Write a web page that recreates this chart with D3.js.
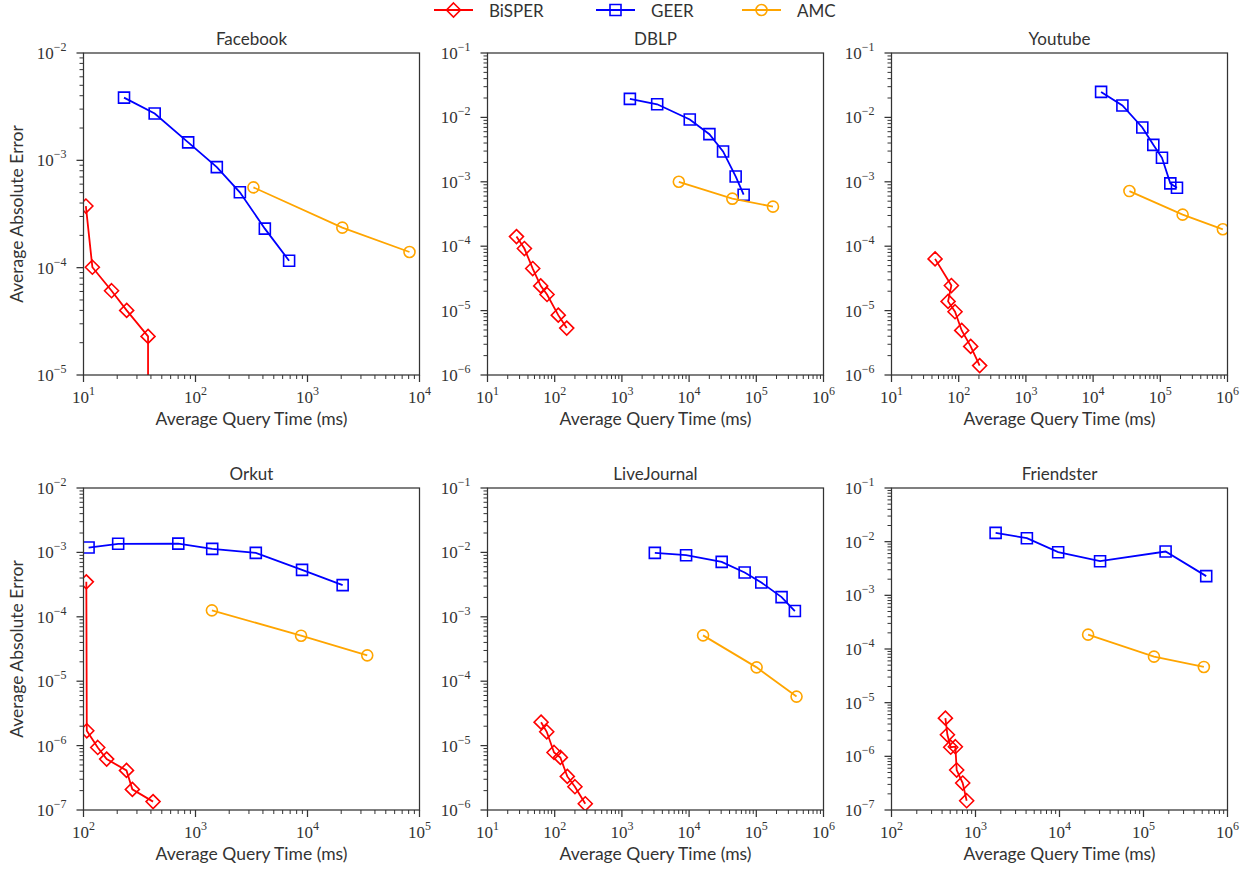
<!DOCTYPE html>
<html>
<head>
<meta charset="utf-8">
<script src="https://cdn.jsdelivr.net/npm/d3@7"></script>
<style>
  body { margin: 0; background: #fff; }
  text { fill: #333; }
</style>
</head>
<body>
<svg id="chart" width="1250" height="871"></svg>
<script>
// Panel names, methods and axis ranges
const datasets = ["Facebook", "DBLP", "Youtube", "Orkut", "LiveJournal", "Friendster"];
const methods = ["BiSPER", "GEER", "AMC"];
const colors = ["#ff0000", "#0000ff", "#ffa500"];
const xDomains = [[1e1, 1e4], [1e1, 1e6], [1e1, 1e6], [1e2, 1e5], [1e1, 1e6], [1e2, 1e6]];
const yDomains = [[1e-5, 1e-2], [1e-6, 1e-1], [1e-6, 1e-1], [1e-7, 1e-2], [1e-6, 1e-1], [1e-7, 1e-1]];

// [query time (ms), average absolute error]
const facebookBiSPER = [[10.5, 3.75e-4], [12.0, 1.01e-4], [17.8, 6.1e-5], [24.3, 4.0e-5], [37.7, 2.29e-5], [37.7, 2e-6]];
const facebookGEER = [[23.0, 3.84e-3], [43.2, 2.73e-3], [86, 1.47e-3], [155, 8.65e-4], [249, 5.04e-4], [416, 2.31e-4], [685, 1.16e-4]];
const facebookAMC = [[329, 5.6e-4], [2046, 2.36e-4], [8140, 1.40e-4]];

const dblpBiSPER = [[27.0, 1.41e-4], [35.4, 9.2e-5], [47.1, 4.5e-5], [61.9, 2.42e-5], [76.9, 1.78e-5], [113, 8.5e-6], [151, 5.35e-6]];
const dblpGEER = [[1315, 1.94e-2], [3350, 1.60e-2], [10230, 9.27e-3], [20050, 5.49e-3], [32000, 2.96e-3], [49300, 1.21e-3], [64800, 6.3e-4]];
const dblpAMC = [[7030, 1.0e-3], [44000, 5.47e-4], [177000, 4.11e-4]];

const youtubeBiSPER = [[44.5, 6.35e-5], [77.8, 2.45e-5], [69.5, 1.39e-5], [88.2, 9.6e-6], [110.8, 4.92e-6], [150.8, 2.78e-6], [205, 1.40e-6]];
const youtubeGEER = [[13150, 2.49e-2], [27300, 1.53e-2], [54000, 6.97e-3], [78700, 3.75e-3], [105900, 2.36e-3], [141000, 9.45e-4], [177000, 8.1e-4]];
const youtubeAMC = [[34700, 7.18e-4], [215000, 3.09e-4], [853000, 1.83e-4]];

const orkutBiSPER = [[106, 3.49e-4], [107, 1.70e-6], [134, 9.35e-7], [161, 6.17e-7], [242, 4.12e-7], [273, 2.09e-7], [418, 1.35e-7]];
const orkutGEER = [[111, 1.19e-3], [204, 1.36e-3], [702, 1.37e-3], [1410, 1.135e-3], [3455, 9.84e-4], [8940, 5.36e-4], [20600, 3.10e-4]];
const orkutAMC = [[1401, 1.26e-4], [8760, 5.09e-5], [34150, 2.52e-5]];

const liveJournalBiSPER = [[62.7, 2.31e-5], [76.1, 1.64e-5], [97.8, 7.83e-6], [121.4, 6.55e-6], [154, 3.32e-6], [200, 2.30e-6], [285, 1.25e-6]];
const liveJournalGEER = [[3090, 9.84e-3], [9020, 9.05e-3], [30550, 7.13e-3], [67100, 4.88e-3], [118700, 3.41e-3], [237800, 2.02e-3], [375000, 1.23e-3]];
const liveJournalAMC = [[16140, 5.15e-4], [101100, 1.64e-4], [397000, 5.77e-5]];

const friendsterBiSPER = [[438, 5.14e-6], [463, 2.52e-6], [507, 1.48e-6], [576, 1.51e-6], [597, 5.55e-7], [704, 3.18e-7], [785, 1.49e-7]];
const friendsterGEER = [[1736, 1.456e-2], [4090, 1.16e-2], [9640, 6.37e-3], [30400, 4.33e-3], [183300, 6.55e-3], [558000, 2.28e-3]];
const friendsterAMC = [[21900, 1.85e-4], [133300, 7.2e-5], [523000, 4.63e-5]];

const panelSeries = [
  [facebookBiSPER, facebookGEER, facebookAMC],
  [dblpBiSPER, dblpGEER, dblpAMC],
  [youtubeBiSPER, youtubeGEER, youtubeAMC],
  [orkutBiSPER, orkutGEER, orkutAMC],
  [liveJournalBiSPER, liveJournalGEER, liveJournalAMC],
  [friendsterBiSPER, friendsterGEER, friendsterAMC]
];

// Layout
const panelW = 336, panelH = 322;
const colLeft = [83.5, 487.5, 891.5];
const rowTop = [53, 488];
const tickFont = "'Liberation Serif', 'DejaVu Serif', serif";
const labelFont = "Lato, 'Open Sans', sans-serif";

const svg = d3.select("#chart");

// marker path generators, centred on 0,0
const markerPath = [
  "M0,-7L7,0L0,7L-7,0Z",                    // diamond
  "M-5.5,-5.5L5.5,-5.5L5.5,5.5L-5.5,5.5Z",  // square
  d3.symbol(d3.symbolCircle, Math.PI * 5.5 * 5.5)() // circle
];

function logTicks(domain) {
  const lo = Math.round(Math.log10(domain[0])), hi = Math.round(Math.log10(domain[1]));
  const major = [], minor = [];
  for (let k = lo; k <= hi; k++) {
    major.push(k);
    if (k < hi) for (let j = 2; j <= 9; j++) minor.push(j * Math.pow(10, k));
  }
  return { major, minor };
}

function powLabel(sel, exp) {
  sel.append("tspan").text("10");
  sel.append("tspan")
     .attr("dy", -8)
     .attr("font-size", 12)
     .text(exp < 0 ? "\u2212" + (-exp) : String(exp));
}

datasets.forEach((name, i) => {
  const col = i % 3, row = Math.floor(i / 3);
  const g = svg.append("g")
               .attr("transform", `translate(${colLeft[col]},${rowTop[row]})`);

  const x = d3.scaleLog().domain(xDomains[i]).range([0, panelW]);
  const y = d3.scaleLog().domain(yDomains[i]).range([panelH, 0]);

  const clipId = "clip" + i;
  g.append("clipPath").attr("id", clipId)
   .append("rect").attr("width", panelW).attr("height", panelH);

  // x ticks
  const xt = logTicks(xDomains[i]);
  g.selectAll(".xminor").data(xt.minor).enter().append("line")
   .attr("x1", d => x(d)).attr("x2", d => x(d))
   .attr("y1", panelH).attr("y2", panelH + 4)
   .attr("stroke", "#333").attr("stroke-width", 1);
  g.selectAll(".xmajor").data(xt.major).enter().append("line")
   .attr("x1", d => x(Math.pow(10, d))).attr("x2", d => x(Math.pow(10, d)))
   .attr("y1", panelH).attr("y2", panelH + 7)
   .attr("stroke", "#333").attr("stroke-width", 1.25);
  xt.major.forEach(k => {
    g.append("text")
     .attr("x", x(Math.pow(10, k)))
     .attr("y", panelH + 28)
     .attr("text-anchor", "middle")
     .attr("font-family", tickFont)
     .attr("font-size", 17)
     .call(powLabel, k);
  });

  // y ticks
  const yt = logTicks(yDomains[i]);
  g.selectAll(".yminor").data(yt.minor).enter().append("line")
   .attr("y1", d => y(d)).attr("y2", d => y(d))
   .attr("x1", 0).attr("x2", -4)
   .attr("stroke", "#333").attr("stroke-width", 1);
  g.selectAll(".ymajor").data(yt.major).enter().append("line")
   .attr("y1", d => y(Math.pow(10, d))).attr("y2", d => y(Math.pow(10, d)))
   .attr("x1", 0).attr("x2", -7)
   .attr("stroke", "#333").attr("stroke-width", 1.25);
  yt.major.forEach(k => {
    g.append("text")
     .attr("x", -17)
     .attr("y", y(Math.pow(10, k)) + 6)
     .attr("text-anchor", "end")
     .attr("font-family", tickFont)
     .attr("font-size", 17)
     .call(powLabel, k);
  });

  // series
  const plot = g.append("g").attr("clip-path", `url(#${clipId})`);
  const line = d3.line().x(d => x(d[0])).y(d => y(d[1]));
  panelSeries[i].forEach((data, m) => {
    plot.append("path")
        .datum(data)
        .attr("d", line)
        .attr("fill", "none")
        .attr("stroke", colors[m])
        .attr("stroke-width", 1.8);
    plot.selectAll(".mk" + m).data(data).enter().append("path")
        .attr("d", markerPath[m])
        .attr("transform", d => `translate(${x(d[0])},${y(d[1])})`)
        .attr("fill", "none")
        .attr("stroke", colors[m])
        .attr("stroke-width", 1.6);
  });

  // frame
  g.append("rect")
   .attr("width", panelW).attr("height", panelH)
   .attr("fill", "none").attr("stroke", "#333").attr("stroke-width", 1.25);

  // titles and labels
  g.append("text")
   .attr("x", panelW / 2).attr("y", -8)
   .attr("text-anchor", "middle")
   .attr("font-family", labelFont).attr("font-size", 17)
   .text(name);
  g.append("text")
   .attr("x", panelW / 2).attr("y", panelH + 50)
   .attr("text-anchor", "middle")
   .attr("font-family", labelFont).attr("font-size", 17.5)
   .text("Average Query Time (ms)");
  if (col === 0) {
    g.append("text")
     .attr("transform", `translate(-61,${panelH / 2}) rotate(-90)`)
     .attr("text-anchor", "middle")
     .attr("font-family", labelFont).attr("font-size", 17.5)
     .text("Average Absolute Error");
  }
});

// Legend
const legendX = [434, 596, 742];
const legend = svg.append("g").attr("transform", "translate(0,10)");
methods.forEach((m, k) => {
  const lg = legend.append("g").attr("transform", `translate(${legendX[k]},0)`);
  lg.append("line").attr("x1", 0).attr("x2", 39).attr("y1", 0).attr("y2", 0)
    .attr("stroke", colors[k]).attr("stroke-width", 1.8);
  lg.append("path").attr("d", markerPath[k])
    .attr("transform", "translate(19.5,0)")
    .attr("fill", "none").attr("stroke", colors[k]).attr("stroke-width", 1.6);
  lg.append("text").attr("x", 55).attr("y", 7)
    .attr("font-family", labelFont).attr("font-size", 17)
    .text(m);
});
</script>
</body>
</html>
